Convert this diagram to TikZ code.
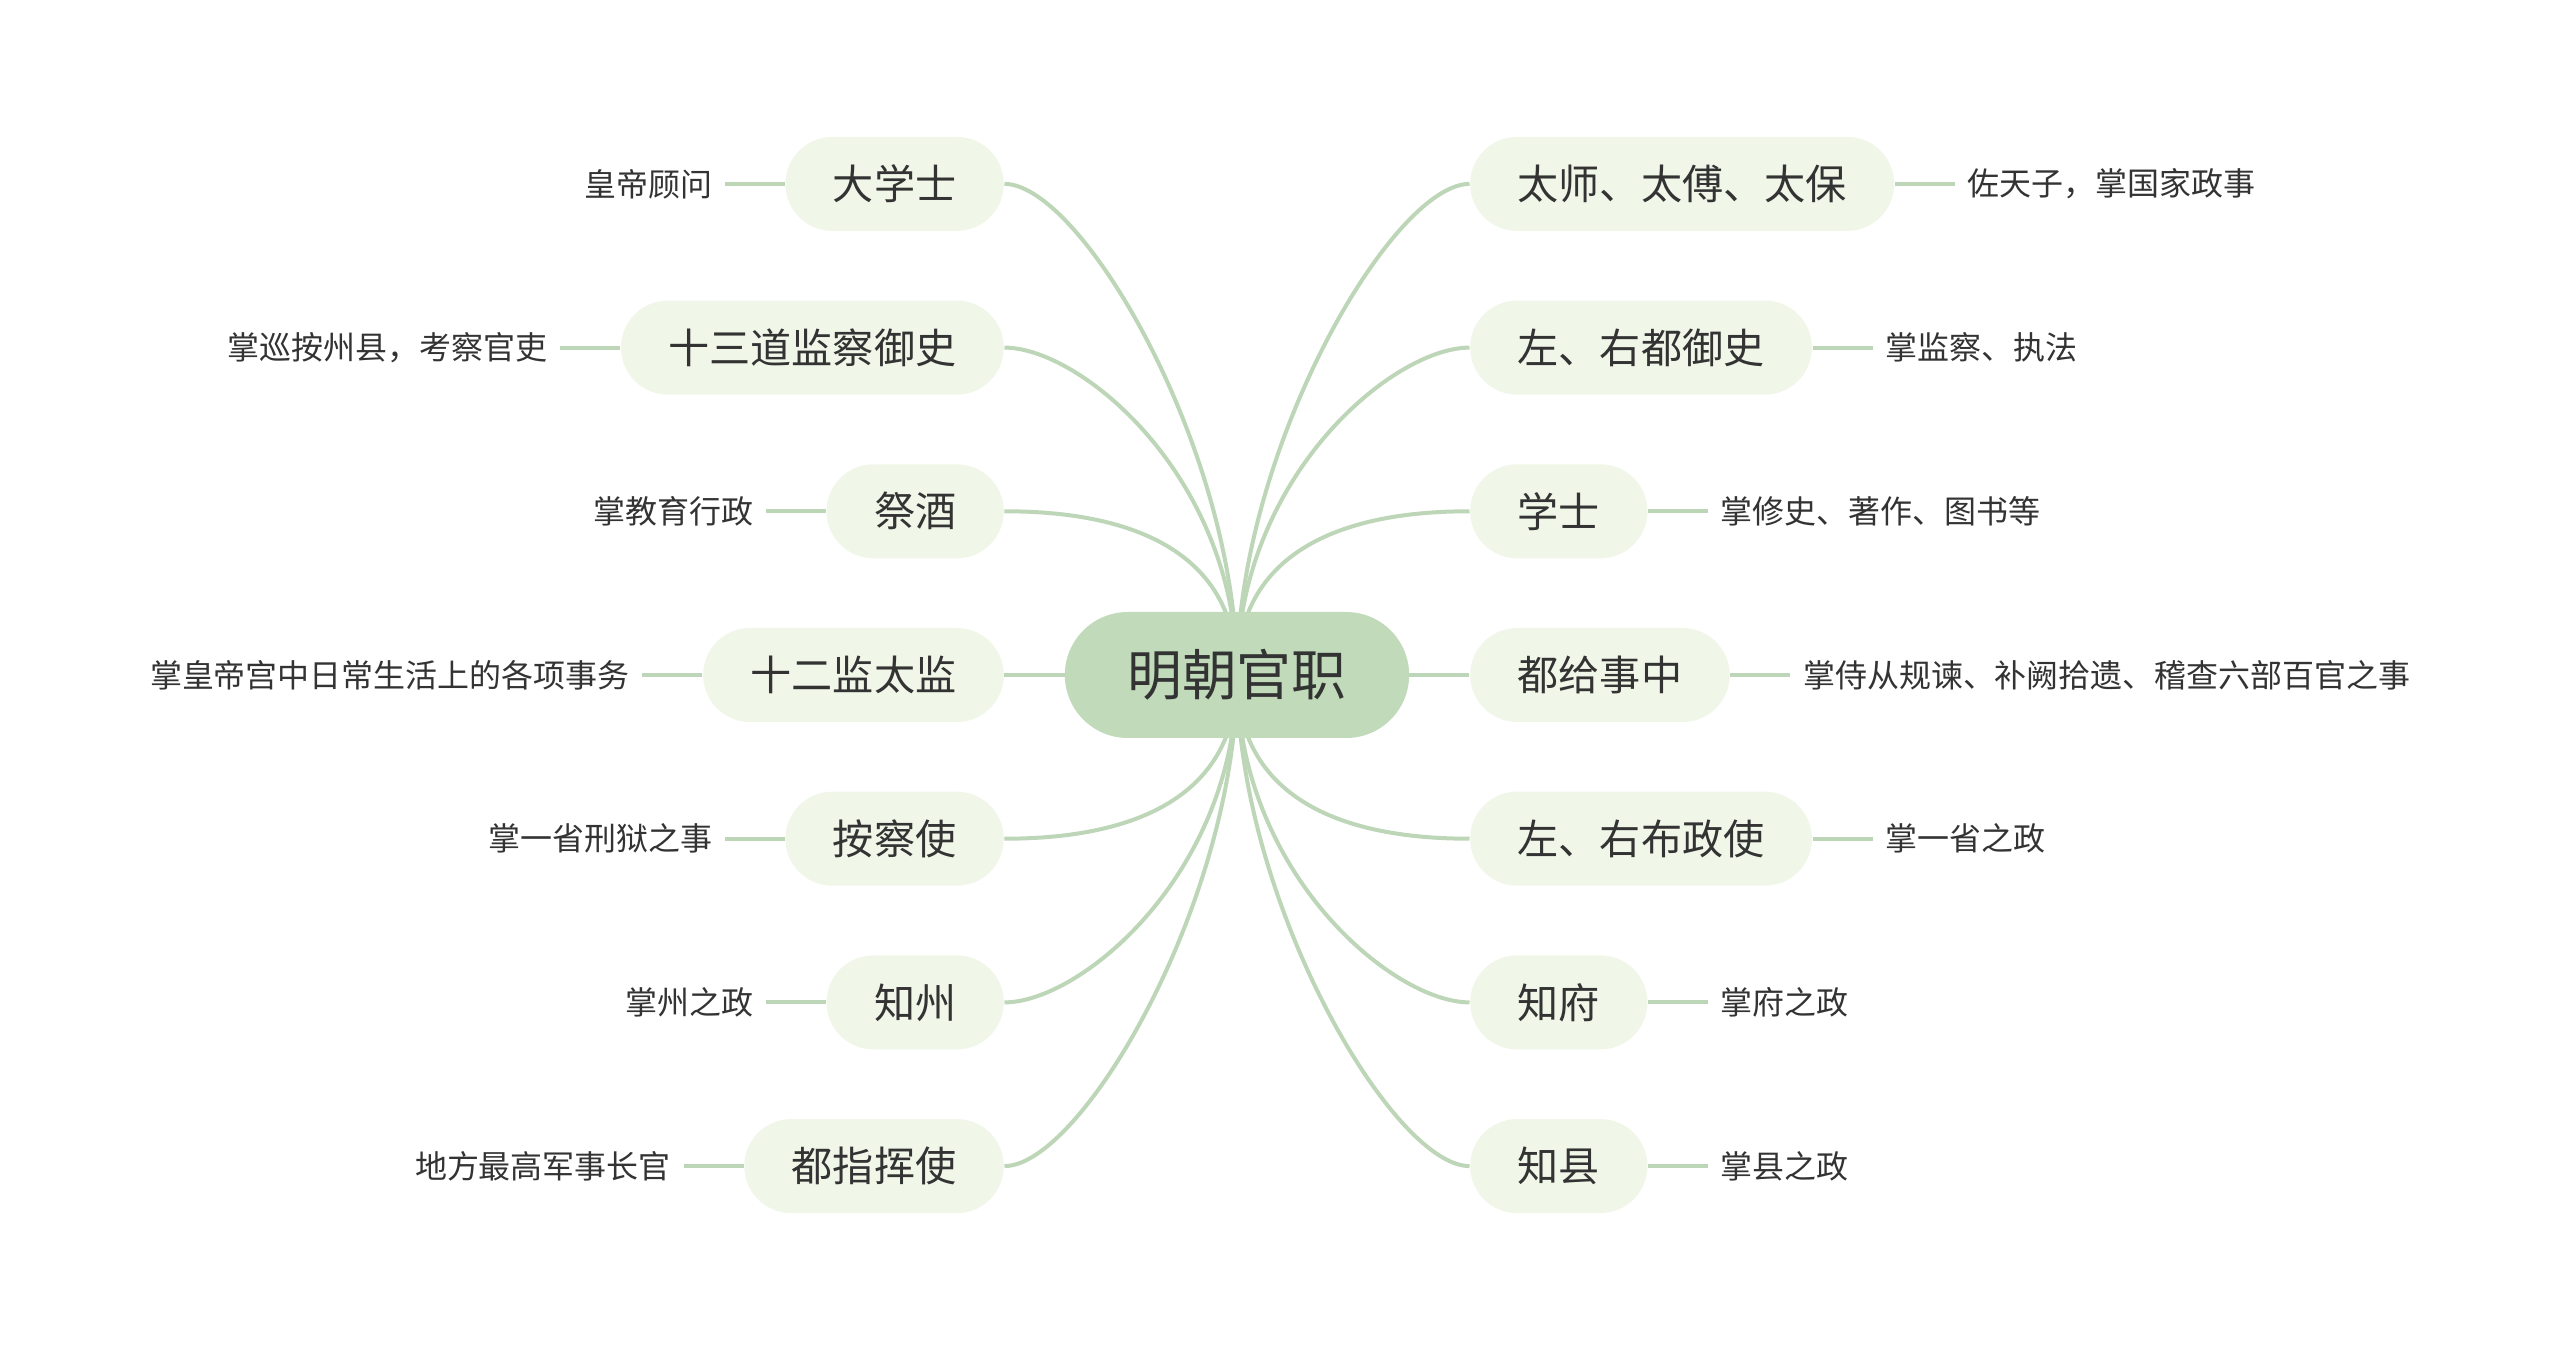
\documentclass[tikz,border=0pt]{standalone}
\usepackage{fontspec}
\setmainfont{Noto Sans CJK SC}
\usepackage{tikz}
\usetikzlibrary{positioning,backgrounds}
\definecolor{RootGreen}{HTML}{C0DABA}
\definecolor{TopicGreen}{HTML}{F0F6E8}
\definecolor{LinkGreen}{HTML}{BDD6B7}
\definecolor{InkGray}{HTML}{333333}
\tikzset{
  root/.style={rectangle,rounded corners=0.63cm,fill=RootGreen,minimum height=1.26cm,
               inner xsep=0.625cm,text=InkGray,font=\fontsize{15.6}{18}\selectfont},
  topic/.style={rectangle,rounded corners=0.47cm,fill=TopicGreen,minimum height=0.94cm,
                inner xsep=0.475cm,text=InkGray,font=\fontsize{11.7}{14}\selectfont},
  note/.style={inner xsep=0.12cm,inner ysep=0pt,text=InkGray,font=\fontsize{9.1}{11}\selectfont},
  link/.style={draw=LinkGreen,line width=0.04cm},
}

\begin{document}
\begin{tikzpicture}[node distance=0.6cm]
  \useasboundingbox (-12.37,-6.76) rectangle (13.23,6.75);
  \node[root] (mcgz) at (0,0) {明朝官职};

  \node[topic, anchor=east] (dxs) at (-2.325, 4.911)  {大学士};
  \node[topic, anchor=east] (ssd) at (-2.325, 3.274)  {十三道监察御史};
  \node[topic, anchor=east] (jj)  at (-2.325, 1.637)  {祭酒};
  \node[topic, anchor=east] (sej) at (-2.325, 0)      {十二监太监};
  \node[topic, anchor=east] (acs) at (-2.325, -1.637) {按察使};
  \node[topic, anchor=east] (zz)  at (-2.325, -3.274) {知州};
  \node[topic, anchor=east] (dzh) at (-2.325, -4.911) {都指挥使};

  \node[topic, anchor=west] (tsb) at (2.325, 4.911)  {太师、太傅、太保};
  \node[topic, anchor=west] (zyd) at (2.325, 3.274)  {左、右都御史};
  \node[topic, anchor=west] (xs)  at (2.325, 1.637)  {学士};
  \node[topic, anchor=west] (djs) at (2.325, 0)      {都给事中};
  \node[topic, anchor=west] (zyb) at (2.325, -1.637) {左、右布政使};
  \node[topic, anchor=west] (zf)  at (2.325, -3.274) {知府};
  \node[topic, anchor=west] (zx)  at (2.325, -4.911) {知县};

  \node[note, left=of dxs] (dxsn) {皇帝顾问};
  \node[note, left=of ssd] (ssdn) {掌巡按州县，考察官吏};
  \node[note, left=of jj]  (jjn)  {掌教育行政};
  \node[note, left=of sej] (sejn) {掌皇帝宫中日常生活上的各项事务};
  \node[note, left=of acs] (acsn) {掌一省刑狱之事};
  \node[note, left=of zz]  (zzn)  {掌州之政};
  \node[note, left=of dzh] (dzhn) {地方最高军事长官};

  \node[note, right=of tsb] (tsbn) {佐天子，掌国家政事};
  \node[note, right=of zyd] (zydn) {掌监察、执法};
  \node[note, right=of xs]  (xsn)  {掌修史、著作、图书等};
  \node[note, right=of djs] (djsn) {掌侍从规谏、补阙拾遗、稽查六部百官之事};
  \node[note, right=of zyb] (zybn) {掌一省之政};
  \node[note, right=of zf]  (zfn)  {掌府之政};
  \node[note, right=of zx]  (zxn)  {掌县之政};

  \begin{scope}[on background layer]
    \fill[white] (-12.37,-6.76) rectangle (13.23,6.75);
    \draw[link] (mcgz.center) .. controls +(0,2.25)  and +(0.77,0) .. (dxs.east);
    \draw[link] (mcgz.center) .. controls +(0,1.97)  and +(0.77,0) .. (ssd.east);
    \draw[link] (mcgz.center) .. controls +(0,1.5)   and +(0.77,0) .. (jj.east);
    \draw[link] (mcgz.center) -- (sej.east);
    \draw[link] (mcgz.center) .. controls +(0,-1.5)  and +(0.77,0) .. (acs.east);
    \draw[link] (mcgz.center) .. controls +(0,-1.97) and +(0.77,0) .. (zz.east);
    \draw[link] (mcgz.center) .. controls +(0,-2.25) and +(0.77,0) .. (dzh.east);

    \draw[link] (mcgz.center) .. controls +(0,2.25)  and +(-0.77,0) .. (tsb.west);
    \draw[link] (mcgz.center) .. controls +(0,1.97)  and +(-0.77,0) .. (zyd.west);
    \draw[link] (mcgz.center) .. controls +(0,1.5)   and +(-0.77,0) .. (xs.west);
    \draw[link] (mcgz.center) -- (djs.west);
    \draw[link] (mcgz.center) .. controls +(0,-1.5)  and +(-0.77,0) .. (zyb.west);
    \draw[link] (mcgz.center) .. controls +(0,-1.97) and +(-0.77,0) .. (zf.west);
    \draw[link] (mcgz.center) .. controls +(0,-2.25) and +(-0.77,0) .. (zx.west);
  \end{scope}

  \draw[link] (dxs) -- (dxsn);
  \draw[link] (ssd) -- (ssdn);
  \draw[link] (jj)  -- (jjn);
  \draw[link] (sej) -- (sejn);
  \draw[link] (acs) -- (acsn);
  \draw[link] (zz)  -- (zzn);
  \draw[link] (dzh) -- (dzhn);
  \draw[link] (tsb) -- (tsbn);
  \draw[link] (zyd) -- (zydn);
  \draw[link] (xs)  -- (xsn);
  \draw[link] (djs) -- (djsn);
  \draw[link] (zyb) -- (zybn);
  \draw[link] (zf)  -- (zfn);
  \draw[link] (zx)  -- (zxn);
\end{tikzpicture}
\end{document}
